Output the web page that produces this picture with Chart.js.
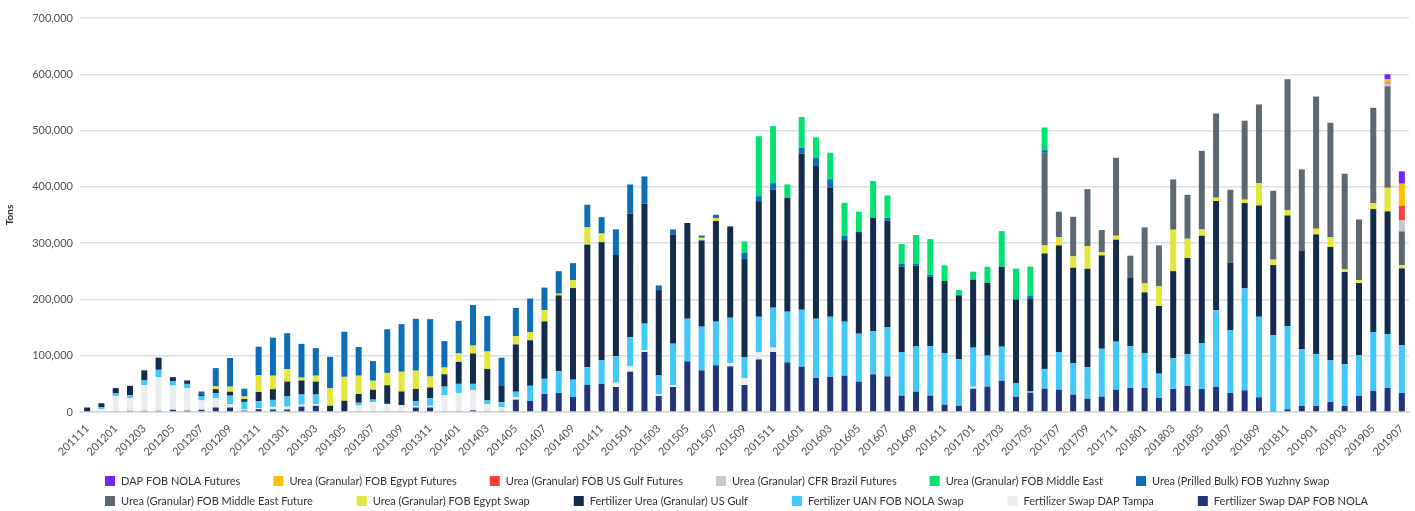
<!DOCTYPE html>
<html><head><meta charset="utf-8">
<script src="https://cdn.jsdelivr.net/npm/chart.js@4.4.1/dist/chart.umd.min.js"></script>
<style>html,body{margin:0;padding:0;background:#fff;overflow:hidden}</style>
</head><body>
<canvas id="c" width="1415" height="511"></canvas>
<script>
const months = ['201111','201112','201201','201202','201203','201204','201205','201206','201207','201208','201209','201210','201211','201212',
'201301','201302','201303','201304','201305','201306','201307','201308','201309','201310','201311','201312',
'201401','201402','201403','201404','201405','201406','201407','201408','201409','201410','201411','201412',
'201501','201502','201503','201504','201505','201506','201507','201508','201509','201510','201511','201512',
'201601','201602','201603','201604','201605','201606','201607','201608','201609','201610','201611','201612',
'201701','201702','201703','201704','201705','201706','201707','201708','201709','201710','201711','201712',
'201801','201802','201803','201804','201805','201806','201807','201808','201809','201810','201811','201812',
'201901','201902','201903','201904','201905','201906','201907'];

const yTicks = [0,100000,200000,300000,400000,500000,600000,700000];

const swapDapFobNola = [0,0,1500,2000,2000,2000,4000,2500,4000,8000,
 8000,2500,5000,4500,4500,9500,11000,0,0,1500,
 1500,1500,1500,8000,8000,1500,1000,3000,1000,1000,
 22000,19500,32000,33700,26600,48000,49700,44400,71600,106600,
 28400,44400,90000,74000,82900,81100,48000,93500,106600,88200,
 80500,60400,62500,64500,53900,66900,63300,29000,36100,29000,
 13000,11200,41400,45000,55600,27200,34300,41400,39700,30800,
 23700,27200,39700,42600,42600,24900,40800,46200,40800,44400,
 33700,38500,26000,1800,4700,10700,10700,17800,10700,28400,
 37300,42600,33700];

const swapDapTampa = [0,5000,26500,23000,46000,60000,43000,40000,16500,16000,
 6000,2000,2000,4500,5000,3500,3000,0,0,10000,
 16000,12000,10000,2000,3000,28500,32500,36000,12500,7500,
 4500,0,0,0,0,0,0,7700,9500,3000,
 3000,3000,0,0,0,5900,12400,12400,7700,0,
 0,0,0,0,0,0,0,0,0,0,
 0,0,3600,0,0,0,0,0,0,0,
 0,0,0,0,0,0,0,0,0,0,
 0,0,0,0,0,0,0,0,0,0,
 0,0,0];

const uanNolaSwap = [0,3500,5000,5000,8000,13000,8000,7500,8000,9000,
 15000,13500,12000,12500,18000,18000,17000,0,0,5000,
 4500,1000,1000,9000,13500,15000,16500,11000,7000,9000,
 9500,27000,27000,38500,30800,31400,42000,46800,51500,47400,
 33700,74000,75800,77600,77600,80500,37300,63300,71000,90000,
 101200,105400,106800,95900,85200,76400,87000,77600,81100,88200,
 91800,82900,69300,55100,60400,23700,3000,34900,66900,56200,
 56200,85200,85200,74600,61600,43200,54500,56200,81100,136200,
 111900,181200,143300,135000,148000,101200,91800,74000,74000,72200,
 104800,95900,84700];

const ureaUsGulf = [8000,7000,9500,16500,18000,21500,7000,6000,3000,7500,
 7000,5000,16500,19000,26500,25000,23000,11000,20000,15500,
 17500,33000,24000,22000,19000,22000,39000,54000,56000,30000,
 84000,81000,102000,135000,162800,218000,210000,180000,219600,213000,
 151500,194000,170000,153300,178800,162200,174000,205400,210000,201900,
 277200,271200,229000,145000,180600,201900,189400,151600,142700,123100,
 127900,113100,120800,129600,142000,149200,163400,205400,189400,169300,
 174600,165800,181200,120800,108300,120200,155100,171100,191200,194200,
 119600,151600,197700,124300,196500,175200,213100,201300,164000,128500,
 218400,217900,136800];

const egyptSwap = [0,0,0,0,0,0,0,0,0,5000,
 9000,4500,29500,24000,22000,5000,10500,31000,42500,32500,
 16000,22000,35000,32500,19500,12000,15000,14000,31000,0,
 15000,14000,20000,3000,14200,30800,15400,0,0,0,
 0,0,0,4700,4700,0,0,0,0,0,
 0,0,0,0,0,0,0,0,0,0,
 0,0,0,0,0,0,0,14200,14800,20100,
 40300,5300,7100,0,16000,34900,73400,34300,11200,5900,
 0,5900,39700,9500,9500,0,10100,17200,4700,5300,
 10700,42000,5900];

const middleEastFuture = [0,0,0,0,0,0,0,0,0,0,
 0,0,0,0,0,0,0,0,0,0,
 0,0,0,0,0,0,0,0,0,0,
 0,0,0,0,0,0,0,0,0,0,
 0,0,0,0,0,0,0,0,0,0,
 0,0,0,0,0,0,0,0,0,0,
 0,0,0,0,0,0,0,164600,45000,70400,
 101200,39700,138500,39700,99500,72800,89400,78100,139700,149800,
 129600,140300,139700,122500,232700,143900,235000,203600,169900,107700,
 169300,180200,59800];

const yuzhnySwap = [0,0,0,0,0,0,0,0,5000,32500,
 51000,14000,51000,67500,64000,60000,49000,56000,80000,51000,
 35000,77500,84500,92000,102000,47000,58000,72000,63000,49000,
 50000,60000,40000,40000,30200,40000,29000,45600,52000,48500,
 8300,8900,0,4100,6500,0,11200,8900,11200,0,
 10700,14300,15400,7700,0,0,5300,5300,3600,3600,
 0,0,0,0,0,0,5300,4700,0,0,
 0,0,0,0,0,0,0,0,0,0,
 0,0,0,0,0,0,0,0,0,0,
 0,0,0];

const middleEast = [0,0,0,0,0,0,0,0,0,0,
 0,0,0,0,0,0,0,0,0,0,
 0,0,0,0,0,0,0,0,0,0,
 0,0,0,0,0,0,0,0,0,0,
 0,0,0,0,0,0,20100,106500,101500,24300,
 54400,36700,46800,58600,36100,65100,39700,34900,50900,63300,
 27800,9500,14200,28400,63300,54500,52100,40300,0,0,
 0,0,0,0,0,0,0,0,0,0,
 0,0,0,0,0,0,0,0,0,0,
 0,0,0];

const brazilFutures = [0,0,0,0,0,0,0,0,0,0,
 0,0,0,0,0,0,0,0,0,0,
 0,0,0,0,0,0,0,0,0,0,
 0,0,0,0,0,0,0,0,0,0,
 0,0,0,0,0,0,0,0,0,0,
 0,0,0,0,0,0,0,0,0,0,
 0,0,0,0,0,0,0,0,0,0,
 0,0,0,0,0,0,0,0,0,0,
 0,0,0,0,0,0,0,0,0,0,
 0,4700,19500];

const usGulfFutures = [0,0,0,0,0,0,0,0,0,0,
 0,0,0,0,0,0,0,0,0,0,
 0,0,0,0,0,0,0,0,0,0,
 0,0,0,0,0,0,0,0,0,0,
 0,0,0,0,0,0,0,0,0,0,
 0,0,0,0,0,0,0,0,0,0,
 0,0,0,0,0,0,0,0,0,0,
 0,0,0,0,0,0,0,0,0,0,
 0,0,0,0,0,0,0,0,0,0,
 0,2400,25500];

const egyptFutures = [0,0,0,0,0,0,0,0,0,0,
 0,0,0,0,0,0,0,0,0,0,
 0,0,0,0,0,0,0,0,0,0,
 0,0,0,0,0,0,0,0,0,0,
 0,0,0,0,0,0,0,0,0,0,
 0,0,0,0,0,0,0,0,0,0,
 0,0,0,0,0,0,0,0,0,0,
 0,0,0,0,0,0,0,0,0,0,
 0,0,0,0,0,0,0,0,0,0,
 0,5900,39700];

const dapNolaFutures = [0,0,0,0,0,0,0,0,0,0,
 0,0,0,0,0,0,0,0,0,0,
 0,0,0,0,0,0,0,0,0,0,
 0,0,0,0,0,0,0,0,0,0,
 0,0,0,0,0,0,0,0,0,0,
 0,0,0,0,0,0,0,0,0,0,
 0,0,0,0,0,0,0,0,0,0,
 0,0,0,0,0,0,0,0,0,0,
 0,0,0,0,0,0,0,0,0,0,
 0,8400,21900];

const FONT = 'Lato, "Open Sans", sans-serif';

const series = [
  {label:'Fertilizer Swap DAP FOB NOLA', data:swapDapFobNola, color:'#213478'},
  {label:'Fertilizer Swap DAP Tampa', data:swapDapTampa, color:'#eaecee'},
  {label:'Fertilizer UAN FOB NOLA Swap', data:uanNolaSwap, color:'#40c8fd'},
  {label:'Fertilizer Urea (Granular) US Gulf', data:ureaUsGulf, color:'#132c4c'},
  {label:'Urea (Granular) FOB Egypt Swap', data:egyptSwap, color:'#e2e739'},
  {label:'Urea (Granular) FOB Middle East Future', data:middleEastFuture, color:'#5d6873'},
  {label:'Urea (Prilled Bulk) FOB Yuzhny Swap', data:yuzhnySwap, color:'#0b6fb7'},
  {label:'Urea (Granular) FOB Middle East', data:middleEast, color:'#02e270'},
  {label:'Urea (Granular) CFR Brazil Futures', data:brazilFutures, color:'#c6cacd'},
  {label:'Urea (Granular) FOB US Gulf Futures', data:usGulfFutures, color:'#ff3c3c'},
  {label:'Urea (Granular) FOB Egypt Futures', data:egyptFutures, color:'#ffc000'},
  {label:'DAP FOB NOLA Futures', data:dapNolaFutures, color:'#7226ff'}
];

const customLegend = {
  id: 'customLegend',
  afterDraw(chart, args, o) {
    const ctx = chart.ctx;
    const items = chart.data.datasets.map(d => ({text: d.label, color: d.backgroundColor})).reverse();
    ctx.save();
    ctx.font = o.font;
    ctx.textBaseline = 'middle';
    ctx.textAlign = 'left';
    for (let r = 0; r * o.perRow < items.length; r++) {
      let x = o.startX;
      const y = chart.height - o.bottomOffsets[r];
      items.slice(r * o.perRow, (r + 1) * o.perRow).forEach(it => {
        ctx.fillStyle = it.color;
        ctx.fillRect(x, y - o.box / 2, o.box, o.box);
        ctx.fillStyle = o.color;
        ctx.fillText(it.text, x + o.box + o.textGap, y);
        x += o.box + o.textGap + ctx.measureText(it.text).width + o.itemGaps[r];
      });
    }
    ctx.restore();
  }
};

new Chart(document.getElementById('c'), {
  type: 'bar',
  data: {
    labels: months,
    datasets: series.map(s => ({
      label: s.label, data: s.data, backgroundColor: s.color,
      borderWidth: 0, barPercentage: 0.5, categoryPercentage: 0.84
    }))
  },
  options: {
    responsive: false,
    animation: false,
    layout: {padding: {left: 0, right: 6, top: 18, bottom: 49}},
    plugins: {
      legend: {display: false},
      tooltip: {enabled: false},
      customLegend: {font: '11px ' + FONT, color: '#2f3337', perRow: 6, startX: 105,
        bottomOffsets: [30, 10], box: 10, textGap: 6, itemGaps: [33, 44]}
    },
    scales: {
      x: {
        stacked: true,
        grid: {display: false},
        border: {display: true, color: '#d3d7db', width: 1.5},
        afterFit(s) { s.height = 50; },
        ticks: {
          autoSkip: false, minRotation: 45, maxRotation: 45, padding: 2,
          color: '#4d5258', font: {family: FONT, size: 11},
          callback(v, i) { return i % 2 === 0 ? months[i] : ''; }
        }
      },
      y: {
        stacked: true,
        min: 0, max: 700000,
        afterFit(s) { s.width = 80; },
        afterBuildTicks(s) { s.ticks = yTicks.map(v => ({value: v})); },
        grid: {color: '#dde0e4', lineWidth: 1.5, drawTicks: false},
        border: {display: false},
        title: {display: true, text: 'Tons', color: '#333', font: {family: FONT, size: 10, weight: 'bold'}, padding: {bottom: 8}},
        ticks: {
          padding: 7, color: '#4d5258', font: {family: FONT, size: 11},
          callback(v) { return v.toLocaleString('en-US'); }
        }
      }
    }
  },
  plugins: [customLegend]
});
</script>
</body></html>
